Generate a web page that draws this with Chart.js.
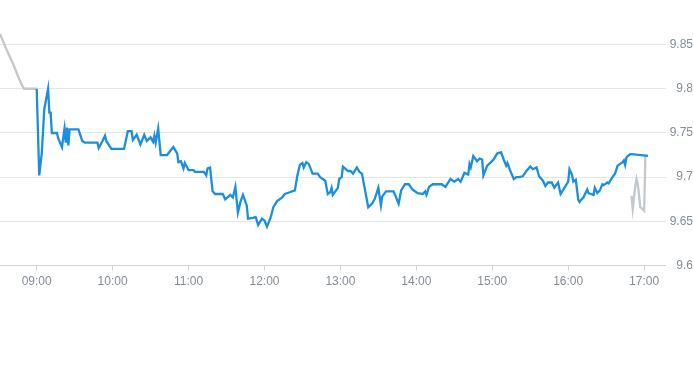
<!DOCTYPE html>
<html>
<head>
<meta charset="utf-8">
<script src="https://cdn.jsdelivr.net/npm/chart.js@4/dist/chart.umd.min.js"></script>
<style>
    body { margin: 0; background: #fff; }
    #wrap { width: 693px; height: 365px; }
</style>
</head>
<body>
<div id="wrap"><canvas id="price_canvas"></canvas></div>
<script>
// pre-market (grey)
var preTimes = ["08:31", "08:36", "08:42", "08:45", "08:48", "08:50", "08:59", "09:00"];
var preValues = [9.862, 9.845, 9.826, 9.815, 9.805, 9.800, 9.800, 9.800];

// trading session (blue)
var sessionTimes = [
    "09:00", "09:02", "09:04", "09:06", "09:09", "09:10", "09:11", "09:12", "09:16", "09:17",
    "09:20", "09:21", "09:22", "09:23", "09:24", "09:25", "09:26", "09:33", "09:36", "09:38",
    "09:48", "09:49", "09:52", "09:54", "09:55", "09:59", "10:09", "10:12", "10:15", "10:16",
    "10:19", "10:22", "10:25", "10:27", "10:30", "10:32", "10:33", "10:34", "10:36", "10:38",
    "10:43", "10:48", "10:51", "10:52", "10:54", "10:56", "10:57", "11:00", "11:04", "11:05",
    "11:12", "11:14", "11:15", "11:17", "11:19", "11:21", "11:27", "11:29", "11:33", "11:35",
    "11:37", "11:39", "11:41", "11:43", "11:46", "11:47", "11:51", "11:53", "11:55", "11:58",
    "12:00", "12:02", "12:05", "12:07", "12:10", "12:14", "12:16", "12:20", "12:24", "12:26",
    "12:28", "12:30", "12:31", "12:33", "12:35", "12:38", "12:42", "12:44", "12:48", "12:50",
    "12:52", "12:53", "12:54", "12:58", "12:59", "13:01", "13:02", "13:06", "13:08", "13:10",
    "13:13", "13:15", "13:17", "13:22", "13:25", "13:27", "13:30", "13:32", "13:33", "13:36",
    "13:42", "13:46", "13:48", "13:51", "13:54", "13:57", "14:01", "14:05", "14:07", "14:08",
    "14:10", "14:13", "14:20", "14:23", "14:27", "14:30", "14:33", "14:35", "14:38", "14:41",
    "14:42", "14:43", "14:45", "14:48", "14:50", "14:52", "14:53", "14:56", "14:59", "15:01",
    "15:04", "15:07", "15:09", "15:11", "15:12", "15:14", "15:17", "15:19", "15:21", "15:24",
    "15:27", "15:30", "15:32", "15:35", "15:37", "15:40", "15:42", "15:44", "15:47", "15:49",
    "15:52", "15:54", "15:57", "16:00", "16:01", "16:03", "16:04", "16:06", "16:08", "16:09",
    "16:10", "16:12", "16:15", "16:16", "16:18", "16:20", "16:21", "16:23", "16:25", "16:27",
    "16:28", "16:31", "16:32", "16:35", "16:37", "16:39", "16:41", "16:43", "16:44", "16:45",
    "16:46", "16:47", "16:49", "16:50", "17:03"
];
var sessionValues = [
    9.800, 9.702, 9.727, 9.777, 9.800, 9.773, 9.773, 9.750, 9.750, 9.744,
    9.734, 9.745, 9.755, 9.739, 9.756, 9.736, 9.754, 9.754, 9.741, 9.739,
    9.739, 9.733, 9.741, 9.747, 9.741, 9.732, 9.732, 9.752, 9.752, 9.742,
    9.748, 9.737, 9.748, 9.741, 9.745, 9.740, 9.747, 9.739, 9.755, 9.725,
    9.725, 9.734, 9.727, 9.717, 9.718, 9.710, 9.716, 9.708, 9.708, 9.706,
    9.706, 9.702, 9.710, 9.711, 9.684, 9.681, 9.681, 9.675, 9.680, 9.677,
    9.689, 9.660, 9.672, 9.680, 9.668, 9.653, 9.654, 9.655, 9.646, 9.653,
    9.651, 9.644, 9.655, 9.666, 9.673, 9.677, 9.681, 9.683, 9.685, 9.702,
    9.714, 9.716, 9.711, 9.717, 9.715, 9.704, 9.704, 9.700, 9.696, 9.681,
    9.683, 9.688, 9.680, 9.688, 9.698, 9.700, 9.712, 9.707, 9.707, 9.704,
    9.711, 9.706, 9.704, 9.666, 9.670, 9.675, 9.688, 9.668, 9.678, 9.684,
    9.684, 9.670, 9.685, 9.692, 9.692, 9.686, 9.682, 9.681, 9.684, 9.680,
    9.689, 9.692, 9.692, 9.689, 9.698, 9.695, 9.698, 9.695, 9.705, 9.703,
    9.715, 9.711, 9.724, 9.718, 9.721, 9.720, 9.702, 9.713, 9.717, 9.720,
    9.727, 9.728, 9.720, 9.713, 9.716, 9.708, 9.698, 9.700, 9.700, 9.701,
    9.707, 9.712, 9.709, 9.711, 9.701, 9.696, 9.690, 9.694, 9.694, 9.688,
    9.694, 9.681, 9.688, 9.695, 9.709, 9.703, 9.695, 9.697, 9.674, 9.672,
    9.674, 9.677, 9.686, 9.682, 9.681, 9.680, 9.688, 9.682, 9.685, 9.692,
    9.691, 9.694, 9.693, 9.700, 9.704, 9.713, 9.715, 9.717, 9.719, 9.714,
    9.722, 9.724, 9.726, 9.726, 9.724
];

// after-hours (grey)
var postTimes = ["16:50", "16:51", "16:53", "16:54", "16:55", "16:57", "16:58", "17:00", "17:01", "17:03"];
var postValues = [9.679, 9.664, 9.690, 9.698, 9.692, 9.666, 9.665, 9.662, 9.724, 9.724];

var hourTicks = ["09:00", "10:00", "11:00", "12:00", "13:00", "14:00", "15:00", "16:00", "17:00"];
var priceTicks = [9.6, 9.65, 9.7, 9.75, 9.8, 9.85];

function toMinutes(hhmm) {
    var parts = hhmm.split(":");
    return parseInt(parts[0], 10) * 60 + parseInt(parts[1], 10);
}

function toLabel(minutes) {
    var h = Math.floor(minutes / 60);
    var m = Math.round(minutes % 60);
    return (h < 10 ? "0" : "") + h + ":" + (m < 10 ? "0" : "") + m;
}

function toPoints(times, values) {
    var points = [];
    for (var i = 0; i < times.length; i++) {
        points.push({x: toMinutes(times[i]), y: values[i]});
    }
    return points;
}

function lineDataset(label, points, color) {
    return {
        label: label,
        data: points,
        borderColor: color,
        backgroundColor: color,
        borderWidth: 2.3,
        pointRadius: 0,
        tension: 0,
        fill: false
    };
}

var blue = '#1a8fe0';
var grey = '#c3c8cd';
var tickFont = {family: 'Liberation Sans', size: 12};

var priceConfig = {
    type: 'line',
    data: {
        datasets: [
            lineDataset('session', toPoints(sessionTimes, sessionValues), blue),
            lineDataset('pre', toPoints(preTimes, preValues), grey),
            lineDataset('post', toPoints(postTimes, postValues), grey)
        ]
    },
    options: {
        responsive: true,
        maintainAspectRatio: false,
        animation: false,
        layout: {padding: {left: 0, right: 0, top: 0, bottom: 72}},
        plugins: {
            legend: {display: false},
            tooltip: {enabled: false}
        },
        scales: {
            x: {
                type: 'linear',
                min: toMinutes("08:31"),
                max: toMinutes("17:17"),
                afterBuildTicks: function(scale) {
                    scale.ticks = hourTicks.map(function(t) { return {value: toMinutes(t)}; });
                },
                ticks: {
                    color: '#848d97',
                    font: tickFont,
                    padding: 4,
                    maxRotation: 0,
                    callback: function(value) { return toLabel(value); }
                },
                grid: {
                    drawOnChartArea: false,
                    drawTicks: true,
                    tickLength: 5,
                    color: '#ccd3da'
                },
                border: {display: true, color: '#ccd3da'}
            },
            y: {
                type: 'linear',
                position: 'right',
                min: 9.6,
                max: 9.89,
                afterBuildTicks: function(scale) {
                    scale.ticks = priceTicks.map(function(v) { return {value: v}; });
                },
                ticks: {
                    color: '#848d97',
                    font: tickFont,
                    padding: 2,
                    crossAlign: 'far',
                    callback: function(value) { return String(value); }
                },
                grid: {
                    drawTicks: false,
                    color: '#e6e6e6'
                },
                border: {display: false}
            }
        }
    }
};

var ctx = document.getElementById("price_canvas").getContext("2d");
window.priceLine = new Chart(ctx, priceConfig);
</script>
</body>
</html>
